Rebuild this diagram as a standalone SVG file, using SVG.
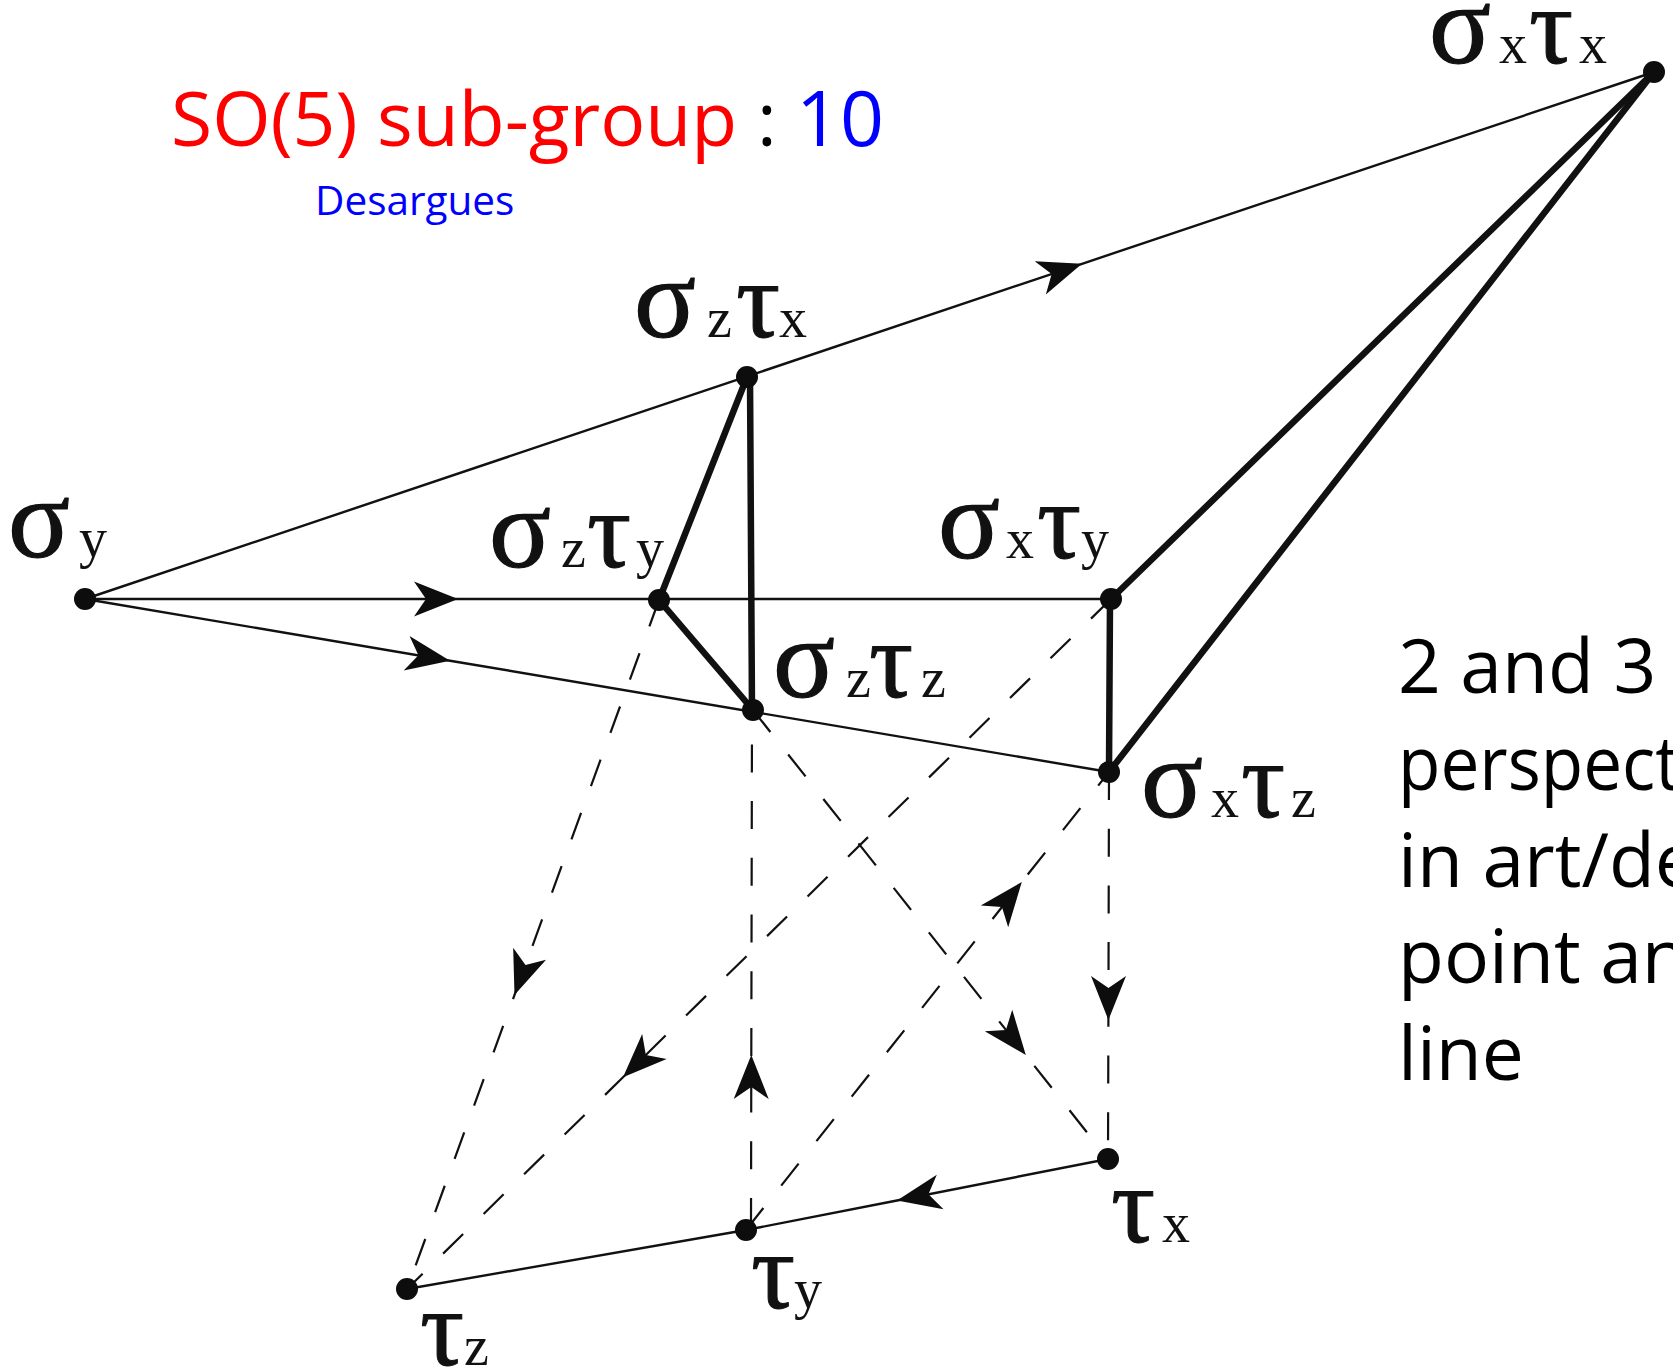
<svg xmlns="http://www.w3.org/2000/svg" width="1673" height="1370" viewBox="0 0 1673 1370">
<style>
.thin{fill:none;stroke:#111;stroke-width:2.4}
.thick{fill:none;stroke:#111;stroke-width:6.5;stroke-linecap:round}
.dash{fill:none;stroke:#111;stroke-width:2.2;stroke-dasharray:28 28.7}
.arr{marker-mid:url(#ah)}
.dot{fill:#0d0d0d}
.lbl{font-family:"Liberation Serif","Times New Roman",serif;fill:#111}
.big{font-size:115px;stroke:#111;stroke-width:1.2;stroke-linejoin:round}
.tau{font-size:110px;stroke:#111;stroke-width:1;stroke-linejoin:round}
.sub{font-size:56px}
.sans{font-family:"Open Sans","Noto Sans","Liberation Sans",sans-serif}
</style>
<defs>
<marker id="ah" markerUnits="userSpaceOnUse" viewBox="-50 -22 56 44" markerWidth="56" markerHeight="44" refX="0" refY="0" orient="auto" overflow="visible">
<path d="M0,0 L-44,-17.5 L-32,0 L-44,17.5 Z" fill="#0d0d0d" stroke="none"/>
</marker>
</defs>
<rect width="1673" height="1370" fill="#fff"/>
<g id="title">
<text class="sans" x="171" y="146" font-size="75" fill="#ff0000">SO(5) sub-group</text>
<text class="sans" x="757" y="146" font-size="75" fill="#000">:</text>
<text class="sans" x="796" y="146" font-size="77" fill="#0000ff">10</text>
<text class="sans" x="315" y="215" font-size="40.5" fill="#0000ff">Desargues</text>
</g>
<g id="note" class="sans" font-size="75" fill="#000">
<text x="1398" y="693">2 and 3</text>
<text x="1398" y="790" textLength="282" lengthAdjust="spacingAndGlyphs">perspect</text>
<text x="1398" y="887">in art/de</text>
<text x="1398" y="983">point an</text>
<text x="1398" y="1080">line</text>
</g>
<g id="connectors">
<path class="thin arr" d="M85,599 L1082,263.8 L1654,72"/>
<path class="thin arr" d="M85,599 L458,599 L1111,599"/>
<path class="thin arr" d="M85,599 L450,660.7 L1109,772"/>
<path class="thin arr" d="M1108,1159 L897,1200.5 L746,1230"/>
<path class="thin" d="M746,1230 L407,1289"/>
<path class="thick" d="M747,377 L659,600"/>
<path class="thick" d="M750,377 L752,710"/>
<path class="thick" d="M659,600 L753,710"/>
<path class="thick" d="M1111,599 L1654,72"/>
<path class="thick" d="M1109,772 L1654,72"/>
<path class="thick" d="M1110,599 L1109,772"/>
<path class="dash arr" d="M659,600 L514.5,995 L407,1289"/>
<path class="dash arr" d="M1111,599 L623,1077.3 L407,1289"/>
<path class="dash arr" d="M751,1226 L751.3,1055 L752,710"/>
<path class="dash arr" d="M746,1230 L1021.8,882 L1109,772"/>
<path class="dash arr" d="M753,710 L1025.8,1055 L1108,1159"/>
<path class="dash arr" d="M1109,772 L1108.4,1020 L1108,1159"/>
</g>
<g id="n-sy"><circle class="dot" cx="85" cy="599" r="11"/>
<text class="lbl" y="557"><tspan class="big" x="8">σ</tspan><tspan class="sub" x="79">y</tspan></text></g>
<g id="n-szty"><circle class="dot" cx="659" cy="600" r="11"/>
<text class="lbl" y="567"><tspan class="big" x="489">σ</tspan><tspan class="sub" x="561">z</tspan><tspan class="tau" x="587">τ</tspan><tspan class="sub" x="636">y</tspan></text></g>
<g id="n-sztx"><circle class="dot" cx="747" cy="377" r="11"/>
<text class="lbl" y="337"><tspan class="big" x="634">σ</tspan><tspan class="sub" x="707">z</tspan><tspan class="tau" x="736">τ</tspan><tspan class="sub" x="779">x</tspan></text></g>
<g id="n-sztz"><circle class="dot" cx="753" cy="710" r="11"/>
<text class="lbl" y="697"><tspan class="big" x="773">σ</tspan><tspan class="sub" x="846">z</tspan><tspan class="tau" x="869">τ</tspan><tspan class="sub" x="921">z</tspan></text></g>
<g id="n-sxty"><circle class="dot" cx="1111" cy="599" r="11"/>
<text class="lbl" y="558"><tspan class="big" x="938">σ</tspan><tspan class="sub" x="1006">x</tspan><tspan class="tau" x="1037">τ</tspan><tspan class="sub" x="1081">y</tspan></text></g>
<g id="n-sxtz"><circle class="dot" cx="1109" cy="772" r="11"/>
<text class="lbl" y="817"><tspan class="big" x="1141">σ</tspan><tspan class="sub" x="1211">x</tspan><tspan class="tau" x="1241">τ</tspan><tspan class="sub" x="1291">z</tspan></text></g>
<g id="n-sxtx"><circle class="dot" cx="1654" cy="72" r="11"/>
<text class="lbl" y="63"><tspan class="big" x="1429">σ</tspan><tspan class="sub" x="1499">x</tspan><tspan class="tau" x="1529">τ</tspan><tspan class="sub" x="1579">x</tspan></text></g>
<g id="n-tx"><circle class="dot" cx="1108" cy="1159" r="11"/>
<text class="lbl" y="1242"><tspan class="tau" x="1111">τ</tspan><tspan class="sub" x="1162">x</tspan></text></g>
<g id="n-ty"><circle class="dot" cx="746" cy="1230" r="11"/>
<text class="lbl" y="1308"><tspan class="tau" x="751">τ</tspan><tspan class="sub" x="794">y</tspan></text></g>
<g id="n-tz"><circle class="dot" cx="407" cy="1289" r="11"/>
<text class="lbl" y="1365"><tspan class="tau" x="420">τ</tspan><tspan class="sub" x="464">z</tspan></text></g>
</svg>
